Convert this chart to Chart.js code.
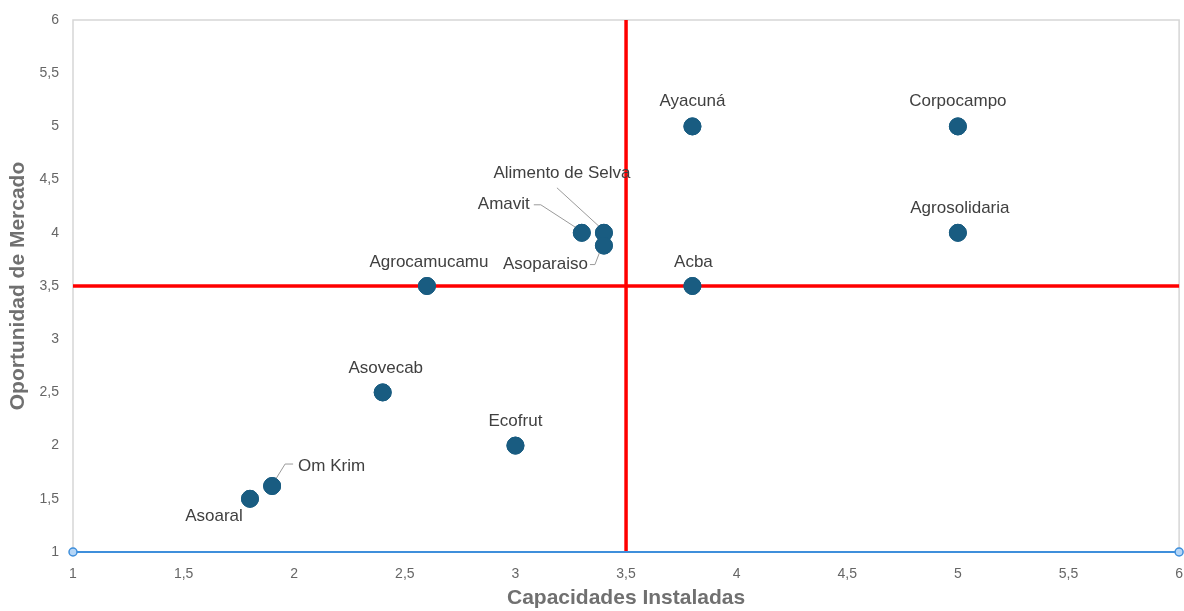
<!DOCTYPE html>
<html>
<head>
<meta charset="utf-8">
<script src="https://cdn.jsdelivr.net/npm/chart.js@4/dist/chart.umd.min.js"></script>
<style>
html,body{margin:0;padding:0;background:#fff;overflow:hidden;}
#wrap{width:1184px;height:611px;overflow:hidden;}
canvas{display:block;}
</style>
</head>
<body>
<div id="wrap"><canvas id="chart" width="1189" height="611"></canvas></div>
<script>
// data
const names = ["Ayacuná","Corpocampo","Agrosolidaria","Acba","Alimento de Selva","Amavit","Asoparaiso","Agrocamucamu","Asovecab","Ecofrut","Om Krim","Asoaral"];
const capacidades = [3.8, 5, 5, 3.8, 3.4, 3.3, 3.4, 2.6, 2.4, 3, 1.9, 1.8];
const oportunidad = [5, 5, 4, 3.5, 4, 4, 3.88, 3.5, 2.5, 2, 1.62, 1.5];
const cutX = 3.5;
const cutY = 3.5;
const axisMin = 1;
const axisMax = 6;

// label placement (pixels relative to each point)
const labelLayout = {
  "Ayacuná": {dx:0, dy:-25, align:"center"},
  "Corpocampo": {dx:0, dy:-25, align:"center"},
  "Agrosolidaria": {dx:2, dy:-24, align:"center"},
  "Acba": {dx:1, dy:-24, align:"center"},
  "Agrocamucamu": {dx:2, dy:-24, align:"center"},
  "Asovecab": {dx:3, dy:-24, align:"center"},
  "Ecofrut": {dx:0, dy:-24, align:"center"},
  "Asoaral": {dx:-36, dy:18, align:"center"},
  "Amavit": {dx:-52, dy:-28, align:"right", leader:[[-48,-28],[-41,-28],[-4,-4]]},
  "Alimento de Selva": {dx:-42, dy:-59, align:"center", leader:[[-47,-45],[0,-2]]},
  "Asoparaiso": {dx:-16, dy:19, align:"right", leader:[[-14,19],[-9,19],[-4,6]]},
  "Om Krim": {dx:26, dy:-20, align:"left", leader:[[21,-22],[13,-22],[0,-1]]}
};

const points = names.map((n,i)=>({x:capacidades[i], y:oportunidad[i]}));

const frame = {
  id:"frame",
  beforeDatasetsDraw(chart){
    const a = chart.chartArea, c = chart.ctx;
    c.save();
    c.strokeStyle = "#d6d6d6";
    c.lineWidth = 1.5;
    c.strokeRect(a.left, a.top, a.right-a.left, a.bottom-a.top);
    c.restore();
  }
};

const labels = {
  id:"labels",
  afterDatasetsDraw(chart){
    const c = chart.ctx;
    const meta = chart.getDatasetMeta(3);
    c.save();
    meta.data.forEach((el,i)=>{
      const L = labelLayout[names[i]];
      if(L.leader){
        c.strokeStyle = "#9a9a9a";
        c.lineWidth = 1;
        c.beginPath();
        L.leader.forEach((p,k)=>{
          if(k===0) c.moveTo(el.x+p[0], el.y+p[1]);
          else c.lineTo(el.x+p[0], el.y+p[1]);
        });
        c.stroke();
      }
    });
    // redraw points over leader lines
    meta.data.forEach(el=>el.draw(c));
    c.font = "17px 'Liberation Sans', Arial, sans-serif";
    c.fillStyle = "#404040";
    c.textBaseline = "middle";
    meta.data.forEach((el,i)=>{
      const L = labelLayout[names[i]];
      c.textAlign = L.align;
      c.fillText(names[i], el.x+L.dx, el.y+L.dy);
    });
    c.restore();
  }
};

const fmt = v => String(v).replace(".", ",");

new Chart(document.getElementById("chart"),{
  type:"scatter",
  data:{
    datasets:[
      {
        type:"line",
        data:[{x:axisMin,y:axisMin},{x:axisMax,y:axisMin}],
        borderColor:"#3f8fdb",
        borderWidth:2,
        pointRadius:4,
        pointBackgroundColor:"#b5d6f7",
        pointBorderColor:"#3f8fdb",
        pointBorderWidth:1.5,
        order:1
      },
      {
        type:"line",
        data:[{x:cutX,y:axisMin},{x:cutX,y:axisMax}],
        borderColor:"#ff0000",
        borderWidth:3.5,
        pointRadius:0,
        order:2
      },
      {
        type:"line",
        data:[{x:axisMin,y:cutY},{x:axisMax,y:cutY}],
        borderColor:"#ff0000",
        borderWidth:3.5,
        pointRadius:0,
        order:2
      },
      {
        data:points,
        backgroundColor:"#195c81",
        borderColor:"#195c81",
        pointRadius:8.5,
        pointHoverRadius:8.5,
        order:0
      }
    ]
  },
  options:{
    responsive:false,
    animation:false,
    devicePixelRatio:1,
    clip:false,
    layout:{padding:{left:0,right:0,top:20,bottom:0}},
    plugins:{legend:{display:false},tooltip:{enabled:false}},
    scales:{
      x:{
        type:"linear",
        min:axisMin,max:axisMax,
        grid:{display:false},
        border:{display:false},
        ticks:{stepSize:0.5,autoSkip:false,color:"#666",font:{size:14,family:"'Liberation Sans', Arial, sans-serif"},padding:6,callback:fmt,maxRotation:0},
        title:{display:true,text:"Capacidades Instaladas",color:"#707070",font:{size:21,weight:"bold",family:"'Liberation Sans', Arial, sans-serif"},padding:{top:0,bottom:0}},
        afterFit(s){ s.height = 59; }
      },
      y:{
        type:"linear",
        min:axisMin,max:axisMax,
        grid:{display:false},
        border:{display:false},
        ticks:{stepSize:0.5,autoSkip:false,color:"#666",font:{size:14,family:"'Liberation Sans', Arial, sans-serif"},padding:6,callback:fmt},
        title:{display:true,text:"Oportunidad de Mercado",color:"#707070",font:{size:21,weight:"bold",family:"'Liberation Sans', Arial, sans-serif"},padding:{top:6,bottom:0}},
        afterFit(s){ s.width = 73; }
      }
    }
  },
  plugins:[frame,labels]
});
</script>
</body>
</html>
